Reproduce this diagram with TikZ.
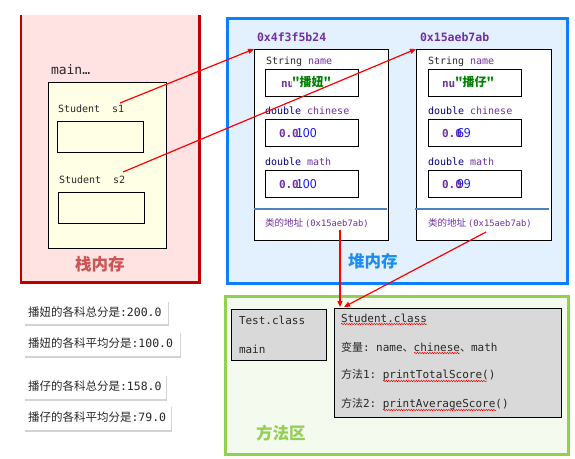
\documentclass[tikz,border=0pt]{standalone}
\usepackage{fontspec}
\setmonofont{DejaVu Sans Mono}
\newfontfamily\cjk{Noto Sans CJK SC}
\usetikzlibrary{arrows.meta,decorations.pathmorphing,shadows}
\definecolor{stackred}{RGB}{192,0,0}
\definecolor{stackfill}{RGB}{255,226,226}
\definecolor{stacklbl}{RGB}{204,84,84}
\definecolor{yfill}{RGB}{255,255,230}
\definecolor{heapblue}{RGB}{10,128,255}
\definecolor{heapfill}{RGB}{227,241,255}
\definecolor{heaplbl}{RGB}{30,140,240}
\definecolor{purp}{RGB}{112,48,160}
\definecolor{navy}{RGB}{0,0,128}
\definecolor{darkgreen}{RGB}{0,128,0}
\definecolor{valblue}{RGB}{20,20,240}
\definecolor{sepblue}{RGB}{79,129,189}
\definecolor{methgreen}{RGB}{146,208,80}
\definecolor{methfill}{RGB}{244,250,238}
\definecolor{grayfill}{RGB}{217,217,217}
\definecolor{txtgray}{RGB}{40,40,40}
\tikzset{
  txt/.style={anchor=west,inner sep=0pt,outer sep=0pt,text=txtgray},
  fieldbox/.style={draw=black,fill=white,line width=0.8pt,anchor=north west,inner sep=0pt,minimum width=93pt,minimum height=27pt},
  objbox/.style={draw=black,fill=white,line width=0.8pt,anchor=north west,inner sep=0pt,minimum width=134pt,minimum height=191pt},
  refbox/.style={draw=black,fill=yfill,line width=0.8pt,anchor=north west,inner sep=0pt,minimum width=86pt,minimum height=31pt},
  graybox/.style={draw=black,fill=grayfill,line width=0.8pt,anchor=north west,inner sep=0pt},
  outbox/.style={fill=white,anchor=north west,inner sep=0pt,drop shadow={opacity=0.35,shadow xshift=1pt,shadow yshift=-1.5pt}},
  redarrow/.style={draw=red,line width=1.2pt,-{Triangle[length=6pt,width=5pt]}},
  wavy/.style={draw=red,line width=0.5pt,decorate,decoration={snake,amplitude=0.7pt,segment length=2.5pt}},
  addr/.style={txt,text=purp,font=\ttfamily\bfseries\fontsize{11.5}{13}\selectfont},
  ftype/.style={txt,font=\ttfamily\fontsize{10}{12}\selectfont},
  pval/.style={txt,text=purp,font=\ttfamily\bfseries\fontsize{11}{13}\selectfont},
  bval/.style={txt,text=valblue,font=\cjk\fontsize{12.5}{14}\selectfont},
  gname/.style={txt,text=darkgreen,fill=white,font=\cjk\bfseries\fontsize{12}{14}\selectfont},
  bigsl/.style={txt,font=\cjk\bfseries\fontsize{16.5}{19}\selectfont},
  outtxt/.style={txt,font=\cjk\fontsize{11.5}{13}\selectfont},
  meth/.style={txt,font=\ttfamily\fontsize{11}{13}\selectfont},
}
\begin{document}
\begin{tikzpicture}[x=1pt,y=-1pt]
\useasboundingbox (0,0) rectangle (575,458);
% ---------- stack ----------
\node[fill=stackfill,anchor=north west,inner sep=0pt,minimum width=178pt,minimum height=267pt] (stack) at (21,15) {};
\draw[stackred,line width=2.8pt] (stack.north west) -- (stack.south west) -- (stack.south east) -- (stack.north east);
\node[txt,font=\ttfamily\fontsize{13}{15}\selectfont] (mainlbl) at (51,70) {main…};
\node[draw=black,fill=yfill,line width=0.8pt,anchor=north west,inner sep=0pt,minimum width=118pt,minimum height=166pt] (frame) at (48,82) {};
\node[txt,font=\ttfamily\fontsize{10}{12}\selectfont] (s1lbl) at (58,109) {Student\ \ s1};
\node[refbox] (s1box) at (57,121) {};
\node[txt,font=\ttfamily\fontsize{10}{12}\selectfont] (s2lbl) at (59,180) {Student\ \ s2};
\node[refbox] (s2box) at (58,192) {};
\node[bigsl,text=stacklbl] (stacklbl) at (75,264) {栈内存};
% ---------- heap ----------
\node[draw=heapblue,fill=heapfill,line width=2.8pt,anchor=north west,inner sep=0pt,minimum width=340pt,minimum height=265pt] (heap) at (226,17) {};
\node[bigsl,text=heaplbl] (heaplbl) at (348,261) {堆内存};
% object 1
\node[addr] (addr1) at (257,37) {0x4f3f5b24};
\node[objbox] (obj1) at (254,49) {};
\draw[sepblue,line width=1.6pt] (254,209) -- (387,209);
\node[ftype] (n1t) at (266,62) {String \textcolor{purp}{name}};
\node[fieldbox] (n1box) at (265,69) {};
\node[pval] (n1null) at (281,83) {null};
\node[gname] (n1val) at (292,82) {"播妞"};
\node[ftype] (c1t) at (265,111) {\textcolor{navy}{double} \textcolor{purp}{chinese}};
\node[fieldbox] (c1box) at (265,119) {};
\node[pval] (c1p) at (279,133) {0.0};
\node[bval] (c1b) at (296,133) {100};
\node[ftype] (m1t) at (265,162) {\textcolor{navy}{double} \textcolor{purp}{math}};
\node[fieldbox] (m1box) at (265,170) {};
\node[pval] (m1p) at (279,184) {0.0};
\node[bval] (m1b) at (296,184) {100};
\node[txt,text=purp] (cls1) at (265,223) {{\cjk\fontsize{9.5}{11}\selectfont 类的地址 }{\ttfamily\fontsize{8.8}{10}\selectfont(0x15aeb7ab)}};
% object 2
\node[addr] (addr2) at (420,37) {0x15aeb7ab};
\node[objbox,minimum width=135pt] (obj2) at (416,49) {};
\draw[sepblue,line width=1.6pt] (415,209) -- (549,209);
\node[ftype] (n2t) at (428,62) {String \textcolor{purp}{name}};
\node[fieldbox] (n2box) at (428,69) {};
\node[pval] (n2null) at (442,83) {null};
\node[gname] (n2val) at (455,82) {"播仔"};
\node[ftype] (c2t) at (428,111) {\textcolor{navy}{double} \textcolor{purp}{chinese}};
\node[fieldbox] (c2box) at (428,119) {};
\node[pval] (c2p) at (442,133) {0.0};
\node[bval] (c2b) at (457,133) {69};
\node[ftype] (m2t) at (428,162) {\textcolor{navy}{double} \textcolor{purp}{math}};
\node[fieldbox] (m2box) at (428,170) {};
\node[pval] (m2p) at (442,184) {0.0};
\node[bval] (m2b) at (457,184) {99};
\node[txt,text=purp] (cls2) at (428,223) {{\cjk\fontsize{9.5}{11}\selectfont 类的地址 }{\ttfamily\fontsize{8.8}{10}\selectfont(0x15aeb7ab)}};
% ---------- method area ----------
\node[draw=methgreen,fill=methfill,line width=2.8pt,anchor=north west,inner sep=0pt,minimum width=343pt,minimum height=158pt] (meth) at (224,295) {};
\node[bigsl,text=methgreen] (methlbl) at (256,433) {方法区};
\node[graybox,minimum width=95pt,minimum height=51pt] (testcls) at (231,309) {};
\node[meth] (testt) at (239,320) {Test.class};
\node[meth] (testm) at (239,349) {main};
\node[graybox,minimum width=227pt,minimum height=109pt] (stucls) at (334,308) {};
\node[meth] (st1) at (341,318) {Student.class};
\node[meth] (st2) at (341,347) {{\cjk 变量}: name{\cjk 、}chinese{\cjk 、}math};
\node[meth] (st3) at (341,375) {{\cjk 方法}1: printTotalScore()};
\node[meth] (st4) at (341,404) {{\cjk 方法}2: printAverageScore()};
\draw[wavy] (341,324) -- ++(86,0);
\draw[wavy] (414,353) -- ++(46,0);
\draw[wavy] (383,381) -- ++(104,0);
\draw[wavy] (383,410) -- ++(113,0);
% ---------- output ----------
\node[outbox,minimum width=144pt,minimum height=24pt] (o1) at (24,300) {};
\node[outtxt] (o1t) at (28,312) {播妞的各科总分是{\ttfamily:200.0}};
\node[outbox,minimum width=156pt,minimum height=25pt] (o2) at (24,331) {};
\node[outtxt] (o2t) at (28,343.5) {播妞的各科平均分是{\ttfamily:100.0}};
\node[outbox,minimum width=142pt,minimum height=25pt] (o3) at (24,374) {};
\node[outtxt] (o3t) at (28,386.5) {播仔的各科总分是{\ttfamily:158.0}};
\node[outbox,minimum width=147pt,minimum height=25pt] (o4) at (24,405) {};
\node[outtxt] (o4t) at (28,417.5) {播仔的各科平均分是{\ttfamily:79.0}};
% ---------- arrows ----------
\coordinate (a1s) at (120,103);
\coordinate (a2s) at (123,172);
\coordinate (a3s) at (340,230);
\coordinate (a4s) at (486,232);
\coordinate (t3) at (340,307);
\coordinate (t4) at (344,307);
\draw[redarrow] (a1s) -- (obj1.north west);
\draw[redarrow] (a2s) -- (obj2.north west);
\draw[redarrow] (a3s) -- (t3);
\draw[redarrow] (a4s) -- (t4);
\end{tikzpicture}
\end{document}
